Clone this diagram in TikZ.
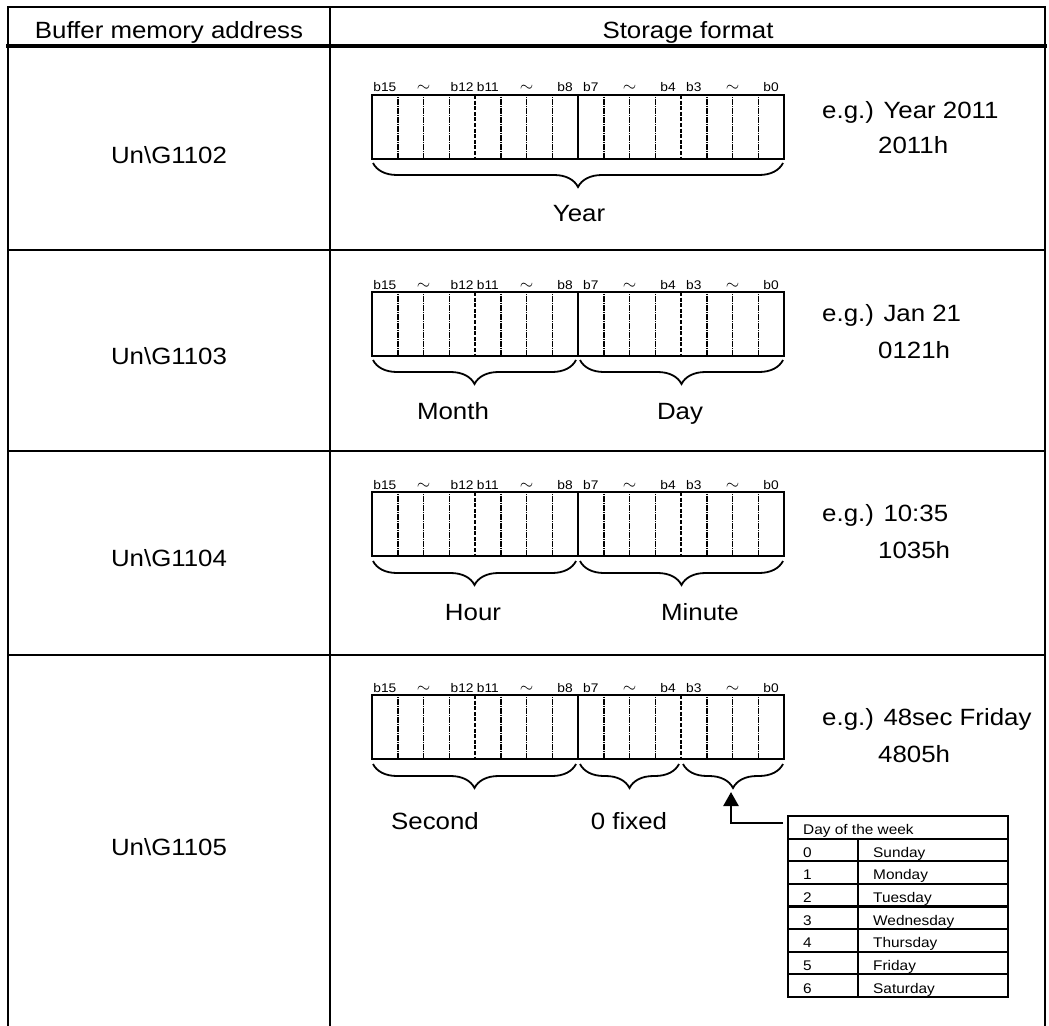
\documentclass[tikz,border=0pt]{standalone}
\usepackage{fontspec}
\setmainfont{Liberation Sans}[FakeStretch=1.1]
\usetikzlibrary{positioning,decorations.pathreplacing,arrows.meta}

\newcommand\DrawRegister[3][byte line]{% #2 = name, #3 = top edge
  \foreach \i in {1,2,3,5,6,7,9,10,11,13,14,15}
    \draw[bit line] (\xL+\i*\bitW,#3) -- ++(0,64);
  \foreach \i in {4,12}
    \draw[nibble line] (\xL+\i*\bitW,#3) -- ++(0,64);
  \draw[#1] (\xL+8*\bitW,#3) -- ++(0,64);
  \draw[reg box] (\xL,#3) rectangle ++(\xR-\xL,64);
  % bit numbers above the box
  \foreach \lbl/\pos in {b15/0.5,b12/3.5,b11/4.5,b8/7.5,b7/8.5,b4/11.5,b3/12.5,b0/15.5}
    \node[bit label] (#2-\lbl) at (\xL+\pos*\bitW,#3-3) {\lbl};
  \foreach \pos in {2,6,10,14}
    \node[bit label,font=\fontsize{17}{17}\selectfont] (#2-t\pos) at (\xL+\pos*\bitW,#3-3) {$\sim$};
}

\tikzset{
  >=latex,
  inner sep=0pt,
  grid line/.style={line width=2.5pt,line cap=rect},
  head line/.style={line width=4pt,line cap=rect},
  reg box/.style={line width=2.4pt},
  bit line/.style={line width=1.5pt,dash pattern=on 1.4pt off 0.4pt},
  nibble line/.style={line width=1.2pt,dash pattern=on 4pt off 1.6pt},
  byte line/.style={line width=1.4pt},
  byte split/.style={line width=2.4pt},
  bit label/.style={font=\fontsize{12.5}{12.5}\selectfont,anchor=base},
  main text/.style={font=\fontsize{23.5}{28}\selectfont,anchor=base},
  eg text/.style={main text,anchor=base west},
  underbrace/.style={decorate,decoration={brace,mirror,amplitude=24pt},line width=1.8pt},
  day line/.style={line width=2.2pt},
  day text/.style={font=\fontsize{14}{14}\selectfont,anchor=base west}
}

\begin{document}
\begin{tikzpicture}[x=1pt,y=-1pt]
	%% some definitions
	\def\xL{372} % left edge of the registers
	\def\xR{784} % right edge of the registers
	\def\bitW{25.75} % width of one bit
	\def\dayH{22.625} % row height of the day table
	\useasboundingbox (0,0) rectangle (1049,1025);

	%% table frame
	\draw[grid line] (8,7) -- (1045,7);
	\draw[head line] (8,46) -- (1045,46);
	\foreach \y in {250,451,655}
		\draw[grid line] (8,\y) -- (1045,\y);
	\foreach \x in {8,330,1045}
		\draw[grid line] (\x,7) -- (\x,1025);
	\node[main text] (hAddr) at (169,38) {Buffer memory address};
	\node[main text] (hFmt) at (688,38) {Storage format};

	%% addresses
	\node[main text] (addrA) at (169,163) {Un\textbackslash G1102};
	\node[main text] (addrB) at (169,364) {Un\textbackslash G1103};
	\node[main text] (addrC) at (169,566) {Un\textbackslash G1104};
	\node[main text] (addrD) at (169,855) {Un\textbackslash G1105};

	%% registers
	\DrawRegister{rA}{95}
	\DrawRegister[byte split]{rB}{292}
	\DrawRegister[byte split]{rC}{492}
	\DrawRegister[byte split]{rD}{695}

	%% braces and their fields
	\draw[underbrace] (373,163) -- (783,163);
	\node[main text] (year) at (579,221) {Year};
	\draw[underbrace] (373,360) -- (576,360);
	\draw[underbrace] (580,360) -- (783,360);
	\node[main text] (month) at (453,419) {Month};
	\node[main text] (day) at (680,419) {Day};
	\draw[underbrace] (373,561) -- (576,561);
	\draw[underbrace] (580,561) -- (783,561);
	\node[main text] (hour) at (473,620) {Hour};
	\node[main text] (minute) at (700,620) {Minute};
	\draw[underbrace] (373,764) -- (576,764);
	\draw[underbrace] (580,764) -- (679,764);
	\draw[underbrace] (683,764) -- (783,764);
	\node[main text] (second) at (435,829) {Second};
	\node[main text] (fixed) at (629,829) {0 fixed};

	%% examples
	\node[eg text] (egA) at (822,118) {e.g.) Year 2011};
	\node[eg text] (hexA) at (878,153) {2011h};
	\node[eg text] (egB) at (822,321) {e.g.) Jan 21};
	\node[eg text] (hexB) at (878,358) {0121h};
	\node[eg text] (egC) at (822,521) {e.g.) 10:35};
	\node[eg text] (hexC) at (878,558) {1035h};
	\node[eg text] (egD) at (822,725) {e.g.) 48sec Friday};
	\node[eg text] (hexD) at (878,762) {4805h};

	%% day of the week table
	\draw[day line] (788,816) rectangle (1008,997);
	\foreach \k in {1,...,7}
		\draw[day line] (788,816+\k*\dayH) -- (1008,816+\k*\dayH);
	\draw[day line] (858,816+\dayH) -- (858,997);
	\node[day text] (dayHead) at (803,834) {Day of the week};
	\foreach \n/\d [count=\k] in {0/Sunday,1/Monday,2/Tuesday,3/Wednesday,4/Thursday,5/Friday,6/Saturday}{
		\node[day text] (num\n) at (803,812+\k*\dayH+\dayH) {\n};
		\node[day text] (name\n) at (873,812+\k*\dayH+\dayH) {\d};
	}

	%% arrow to the day field
	\coordinate (dayTip) at (731,792);
	\coordinate (tabIn) at (783,823);
	\draw[line width=2.5pt,-{Triangle[length=14pt,width=15pt]}] (tabIn) -| (dayTip);
\end{tikzpicture}
\end{document}
